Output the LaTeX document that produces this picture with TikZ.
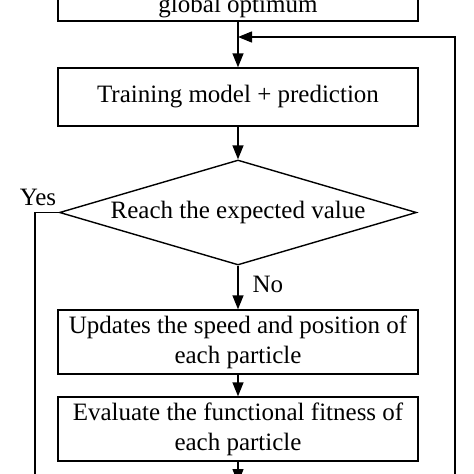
\documentclass[tikz,border=0pt]{standalone}
\usepackage{fontspec}
\setmainfont{Liberation Serif}
\usetikzlibrary{shapes.geometric,arrows.meta}
\begin{document}
\begin{tikzpicture}[x=1pt,y=-1pt,
  txt/.style={font=\fontsize{25}{30}\selectfont},
  box/.style={draw, line width=1.4pt, txt, minimum width=360pt, align=center, inner sep=0pt},
  dia/.style={draw, line width=1.4pt, txt, diamond, aspect=3.4, inner sep=0pt, minimum width=357pt, minimum height=105pt},
  arr/.style={line width=1.4pt, -{Triangle[length=14pt,width=11pt]}},
  ln/.style={line width=1.4pt}]
\useasboundingbox (0,0) rectangle (474,474);
\fill[white] (0,0) rectangle (474,474);
% boxes
\node[box, anchor=base, text height=70pt, text depth=5pt, inner ysep=4pt] (top) at (238,12) {global optimum};
\node[box, minimum height=58pt] (train) at (238,97) {Training model + prediction};
\node[dia] (check) at (238,212.5) {Reach the expected value};
\node[box, minimum height=64pt] (upd) at (238,342) {Updates the speed and position of\\each particle};
\node[box, minimum height=64pt] (eval) at (238,429) {Evaluate the functional fitness of\\each particle};
% labels
\node[txt, anchor=base] (yes) at (38,205) {Yes};
\node[txt, anchor=base west] (no) at (249,292) {No};
% coordinates
\coordinate (join) at (238,37);
\coordinate (fbbot) at (455,490);
\coordinate (yescorner) at (35,212.5);
\coordinate (yesbot) at (35,490);
\coordinate (evalend) at (238,483);
% connectors
\draw[arr] (top.south) -- (train.north);
\draw[arr] (fbbot) |- (join);
\draw[arr] (train.south) -- (check.north);
\draw[arr] (check.south) -- (upd.north);
\draw[arr] (upd.south) -- (eval.north);
\draw[arr] (eval.south) -- (evalend);
\draw[ln] (check.west) -- (yescorner) -- (yesbot);
\end{tikzpicture}
\end{document}
